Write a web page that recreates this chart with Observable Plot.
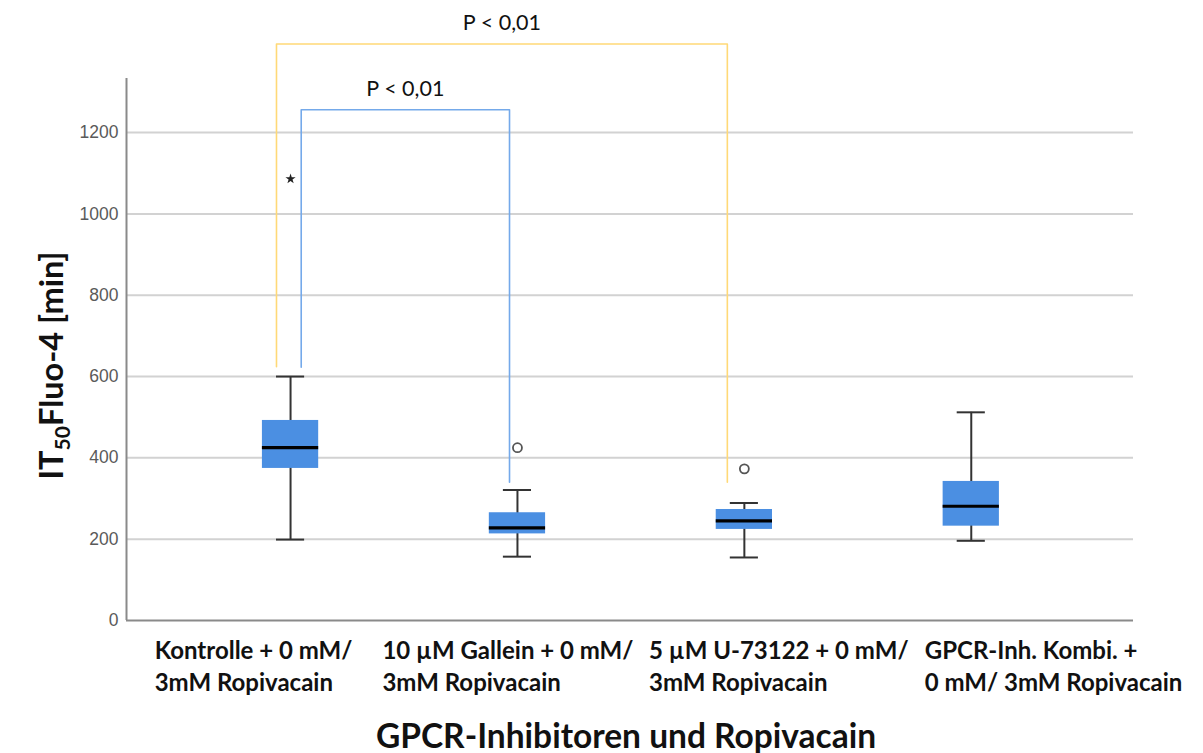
<!DOCTYPE html>
<html>
<head>
<meta charset="utf-8">
<script src="https://cdn.jsdelivr.net/npm/d3@7"></script>
<script src="https://cdn.jsdelivr.net/npm/@observablehq/plot@0.6"></script>
<style>
  html, body { margin: 0; padding: 0; background: #fff; }
  #chart { width: 1203px; height: 753px; }
</style>
</head>
<body>
<div id="chart"></div>
<script>
// ---- data ----
const groups = [
  "Kontrolle + 0 mM/\n3mM Ropivacain",
  "10 µM Gallein + 0 mM/\n3mM Ropivacain",
  "5 µM U-73122 + 0 mM/\n3mM Ropivacain",
  "GPCR-Inh. Kombi. +\n0 mM/ 3mM Ropivacain"
];
const whiskerLow  = [199, 157, 155, 196];
const q1          = [374, 213, 224, 232];
const median      = [425, 228, 245, 281];
const q3          = [492, 265, 273, 342];
const whiskerHigh = [600, 321, 289, 512];
const outlierGroup = [1, 2];
const outlierValue = [425, 373];
const extremeGroup = [0];
const extremeValue = [1086];
const yTicks = [0, 200, 400, 600, 800, 1000, 1200];
// significance brackets
const bracketLabel   = ["P < 0,01", "P < 0,01"];
const bracketFrom    = [0, 0];
const bracketTo      = [2, 1];
const bracketTop     = [1418, 1256];
const bracketLowFrom = [624, 623];
const bracketLowTo   = [340, 340];
const bracketColor   = ["#ffd977", "#74a9ea"];
const xTitle = "GPCR-Inhibitoren und Ropivacain";
const yTitle = "IT50Fluo-4 [min]";

// ---- layout (positions / styles, not data) ----
const bracketShiftFrom = [-0.062, 0.047];
const bracketShiftTo   = [-0.075, -0.035];
const labelShift = [-0.599, -0.595, -0.42, -0.205];
const boxHalf = 0.124, capHalf = 0.062;
const xDomain = [-0.723, 3.715];
const yDomain = [0, 1333];

const idx = groups.map((_, i) => i);
const boxes = idx.map(i => ({i, lo: whiskerLow[i], q1: q1[i], med: median[i], q3: q3[i], hi: whiskerHigh[i]}));
const outs = outlierGroup.map((g, k) => ({i: g, v: outlierValue[k]}));
const extremes = extremeGroup.map((g, k) => ({i: g, v: extremeValue[k]}));
const brPts = [];
bracketLabel.forEach((lab, k) => {
  const xa = bracketFrom[k] + bracketShiftFrom[k];
  const xb = bracketTo[k] + bracketShiftTo[k];
  brPts.push({k, x: xa, y: bracketLowFrom[k]}, {k, x: xa, y: bracketTop[k]},
             {k, x: xb, y: bracketTop[k]}, {k, x: xb, y: bracketLowTo[k]});
});
const brLabels = bracketLabel.map((lab, k) => ({
  lab, x: ((bracketFrom[k] + bracketShiftFrom[k]) + (bracketTo[k] + bracketShiftTo[k])) / 2, y: bracketTop[k]
}));

const FONT = "Lato, Open Sans, sans-serif";
const chart = Plot.plot({
  width: 1203,
  height: 753,
  marginLeft: 126,
  marginRight: 70,
  marginTop: 78,
  marginBottom: 133,
  style: {background: "#fff", overflow: "visible"},
  x: {domain: xDomain, axis: null},
  y: {domain: yDomain, axis: null},
  marks: [
    Plot.ruleY(yTicks.filter(d => d > 0), {stroke: "#d2d2d2", strokeWidth: 2}),
    Plot.ruleY([0], {stroke: "#8a8a8a", strokeWidth: 2}),
    Plot.ruleX([xDomain[0]], {y1: 0, y2: yDomain[1], stroke: "#8a8a8a", strokeWidth: 2}),
    Plot.axisY(yTicks, {tickSize: 0, tickPadding: 8, label: null, fontSize: 17.5, tickFormat: d => String(d),
      fontFamily: "Liberation Sans, Arial, sans-serif", fill: "#5a5a5a"}),
    Plot.line(brPts, {x: "x", y: "y", z: "k", stroke: d => bracketColor[d.k], strokeWidth: 1.6, curve: "linear"}),
    Plot.text(brLabels, {x: "x", y: "y", text: "lab", dy: -21, fontSize: 21.5,
      fontFamily: FONT, fill: "#111"}),
    Plot.ruleX(boxes, {x: "i", y1: "lo", y2: "hi", stroke: "#333", strokeWidth: 2}),
    Plot.ruleY(boxes, {y: "lo", x1: d => d.i - capHalf, x2: d => d.i + capHalf, stroke: "#333", strokeWidth: 2}),
    Plot.ruleY(boxes, {y: "hi", x1: d => d.i - capHalf, x2: d => d.i + capHalf, stroke: "#333", strokeWidth: 2}),
    Plot.rect(boxes, {x1: d => d.i - boxHalf, x2: d => d.i + boxHalf, y1: "q1", y2: "q3", fill: "#4b8fe2"}),
    Plot.ruleY(boxes, {y: "med", x1: d => d.i - boxHalf, x2: d => d.i + boxHalf, stroke: "#000", strokeWidth: 3.2}),
    Plot.dot(outs, {x: "i", y: "v", r: 4.5, stroke: "#555", strokeWidth: 1.8, fill: "#fff"}),
    Plot.dot(extremes, {x: "i", y: "v", r: 3.2, symbol: "star", fill: "#222", stroke: "none"}),
    Plot.text(idx, {x: i => i + labelShift[i], y: 0, text: i => groups[i], textAnchor: "start",
      lineAnchor: "top", dy: 16, lineHeight: 32 / 24, fontSize: 24, fontWeight: "bold",
      fontFamily: FONT, fill: "#111"}),
    Plot.text([xTitle], {frameAnchor: "bottom", text: d => d, textAnchor: "middle", dx: -4, dy: 117,
      lineAnchor: "middle", fontSize: 33.5, fontWeight: "bold", fontFamily: FONT, fill: "#111"}),
    Plot.text([yTitle], {frameAnchor: "left", text: d => d, rotate: -90, textAnchor: "middle", dx: -74, dy: 16,
      lineAnchor: "middle", fontSize: 32.5, fontWeight: "bold", fontFamily: FONT, fill: "#111"})
  ]
});
document.getElementById("chart").appendChild(chart);

// subscript "50" in the y title
const ns = "http://www.w3.org/2000/svg";
for (const t of chart.querySelectorAll("text")) {
  if (t.textContent === yTitle) {
    t.textContent = "";
    const parts = [["IT", 0, null], ["50", 7, "21"], ["Fluo-4 [min]", -7, null]];
    for (const [s, dy, fs] of parts) {
      const ts = document.createElementNS(ns, "tspan");
      ts.textContent = s;
      if (dy) ts.setAttribute("dy", dy);
      if (fs) ts.setAttribute("font-size", fs);
      t.appendChild(ts);
    }
  }
}
</script>
</body>
</html>
